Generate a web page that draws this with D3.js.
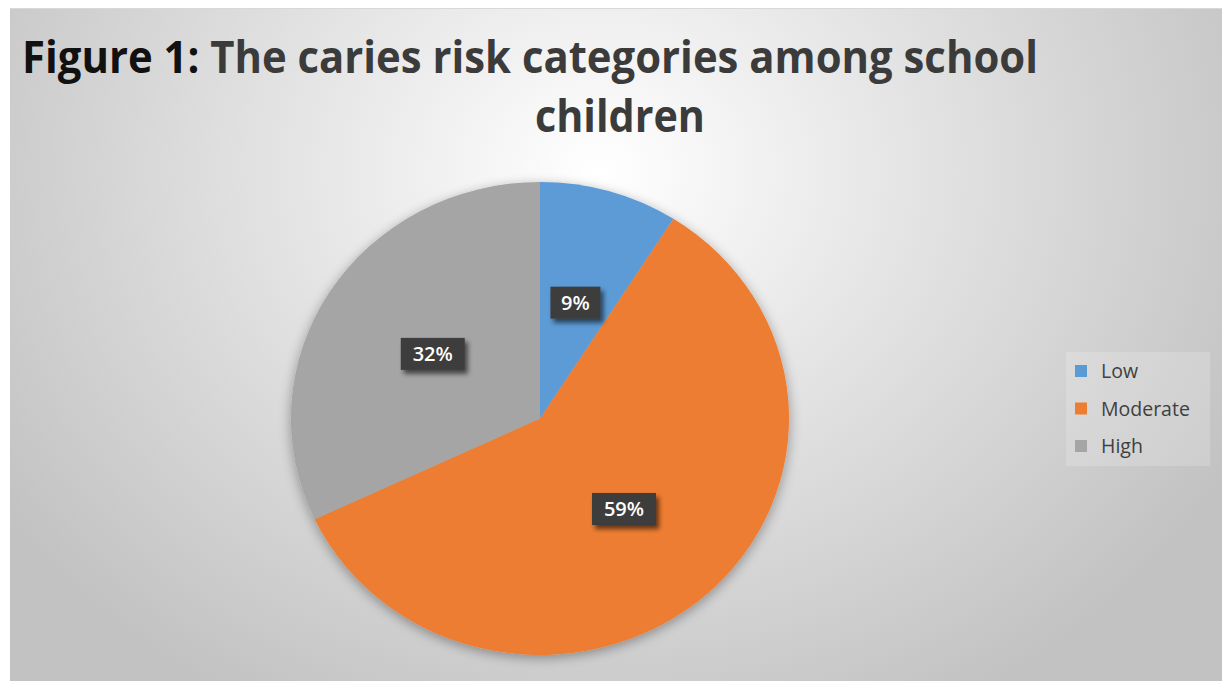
<!DOCTYPE html>
<html>
<head>
<meta charset="utf-8">
<script src="https://cdn.jsdelivr.net/npm/d3@7"></script>
<style>
html, body { margin: 0; padding: 0; background: #fff; }
svg { display: block; }
</style>
</head>
<body>
<svg id="chart" width="1222" height="681"></svg>
<script>
var W = 1222, H = 681;

// data
var categories = ["Low", "Moderate", "High"];
var shares = [9, 59, 32];
var sliceColors = ["#5b9bd5", "#ed7d31", "#a5a5a5"];
var titleBold = "Figure 1:";
var titleRest = " The caries risk categories among school";
var titleLine2 = "children";

var PIE_CX = 540, PIE_CY = 418.5;
var PIE_R = 236.5;
var PIE_SX = 1.053; // the picture is stretched a little sideways

var svg = d3.select("#chart");
var defs = svg.append("defs");

var bg = defs.append("radialGradient")
	.attr("id", "bgGrad")
	.attr("gradientUnits", "userSpaceOnUse")
	.attr("cx", 600).attr("cy", 170).attr("r", 720)
	.attr("gradientTransform", "translate(600,170) scale(1,0.85) translate(-600,-170)");
bg.append("stop").attr("offset", "0").attr("stop-color", "#ffffff");
bg.append("stop").attr("offset", "0.45").attr("stop-color", "#e3e3e3");
bg.append("stop").attr("offset", "1").attr("stop-color", "#c2c2c2");

var sh = defs.append("filter").attr("id", "pieShadow")
	.attr("x", "-20%").attr("y", "-20%").attr("width", "140%").attr("height", "140%");
sh.append("feGaussianBlur").attr("in", "SourceAlpha").attr("stdDeviation", 6);
sh.append("feOffset").attr("dx", 0).attr("dy", 3).attr("result", "blur");
sh.append("feComponentTransfer").append("feFuncA").attr("type", "linear").attr("slope", 0.35);
var shm = sh.append("feMerge");
shm.append("feMergeNode");
shm.append("feMergeNode").attr("in", "SourceGraphic");

var lsh = defs.append("filter").attr("id", "labelShadow")
	.attr("x", "-30%").attr("y", "-30%").attr("width", "170%").attr("height", "170%");
lsh.append("feGaussianBlur").attr("in", "SourceAlpha").attr("stdDeviation", 2.5);
lsh.append("feOffset").attr("dx", 3).attr("dy", 4);
lsh.append("feComponentTransfer").append("feFuncA").attr("type", "linear").attr("slope", 0.6);
var lshm = lsh.append("feMerge");
lshm.append("feMergeNode");
lshm.append("feMergeNode").attr("in", "SourceGraphic");

// chart area
svg.append("rect")
	.attr("x", 10).attr("y", 8)
	.attr("width", W - 10).attr("height", H - 8)
	.attr("fill", "url(#bgGrad)");
svg.append("line")
	.attr("x1", 10).attr("x2", W).attr("y1", 8.5).attr("y2", 8.5)
	.attr("stroke", "#d8d8d8").attr("stroke-width", 1);

// title (Calibri-like: condensed by textLength)
var t1 = svg.append("text")
	.attr("x", 22).attr("y", 73)
	.attr("textLength", 1016)
	.attr("lengthAdjust", "spacingAndGlyphs")
	.style("font-family", "'Open Sans', 'Noto Sans', sans-serif")
	.style("font-size", "45px")
	.style("font-weight", "bold");
t1.append("tspan").attr("fill", "#111111").text(titleBold);
t1.append("tspan").attr("fill", "#3b3b3b").text(titleRest);

svg.append("text")
	.attr("x", 620).attr("y", 132)
	.attr("text-anchor", "middle")
	.attr("textLength", 170)
	.attr("lengthAdjust", "spacingAndGlyphs")
	.attr("fill", "#3b3b3b")
	.style("font-family", "'Open Sans', 'Noto Sans', sans-serif")
	.style("font-size", "45px")
	.style("font-weight", "bold")
	.text(titleLine2);

// pie
var pie = d3.pie().sort(null).value(function(d) { return d; });
var arcs = pie(shares);
var arc = d3.arc().innerRadius(0).outerRadius(PIE_R);
var labelArc = d3.arc().innerRadius(0).outerRadius(PIE_R * 1.02);

var pieG = svg.append("g")
	.attr("transform", "translate(" + PIE_CX + "," + PIE_CY + ") scale(" + PIE_SX + ",1)")
	.attr("filter", "url(#pieShadow)");

pieG.selectAll("path.slice")
	.data(arcs)
	.enter().append("path")
	.attr("class", "slice")
	.attr("d", arc)
	.attr("fill", function(d, i) { return sliceColors[i]; });

// data labels
var labels = svg.append("g").selectAll("g.lbl")
	.data(arcs)
	.enter().append("g")
	.attr("class", "lbl")
	.attr("transform", function(d) {
		var c = labelArc.centroid(d);
		return "translate(" + (PIE_CX + c[0] * PIE_SX) + "," + (PIE_CY + c[1]) + ")";
	});

labels.each(function(d) {
	var g = d3.select(this);
	var txt = d.data + "%";
	var bw = txt.length > 2 ? 64 : 50;
	g.append("rect")
		.attr("x", -bw / 2).attr("y", -16)
		.attr("width", bw).attr("height", 32)
		.attr("fill", "#3d3d3d")
		.attr("filter", "url(#labelShadow)");
	g.append("text")
		.attr("y", 7)
		.attr("text-anchor", "middle")
		.attr("fill", "#ffffff")
		.style("font-family", "'Open Sans', 'Noto Sans', sans-serif")
		.style("font-size", "20px")
		.style("font-weight", "600")
		.text(txt);
});

// legend
var legend = svg.append("g").attr("transform", "translate(1066,352)");
legend.append("rect")
	.attr("width", 144).attr("height", 114)
	.attr("fill", "#ffffff").attr("fill-opacity", 0.18);

var items = legend.selectAll("g.item")
	.data(categories)
	.enter().append("g")
	.attr("class", "item")
	.attr("transform", function(d, i) { return "translate(0," + (19 + i * 37.5) + ")"; });

items.append("rect")
	.attr("x", 9).attr("y", -6)
	.attr("width", 12).attr("height", 12)
	.attr("fill", function(d, i) { return sliceColors[i]; });

items.append("text")
	.attr("x", 35).attr("y", 7)
	.attr("fill", "#404040")
	.style("font-family", "'Open Sans', 'Noto Sans', sans-serif")
	.style("font-size", "19.5px")
	.text(function(d) { return d; });
</script>
</body>
</html>
